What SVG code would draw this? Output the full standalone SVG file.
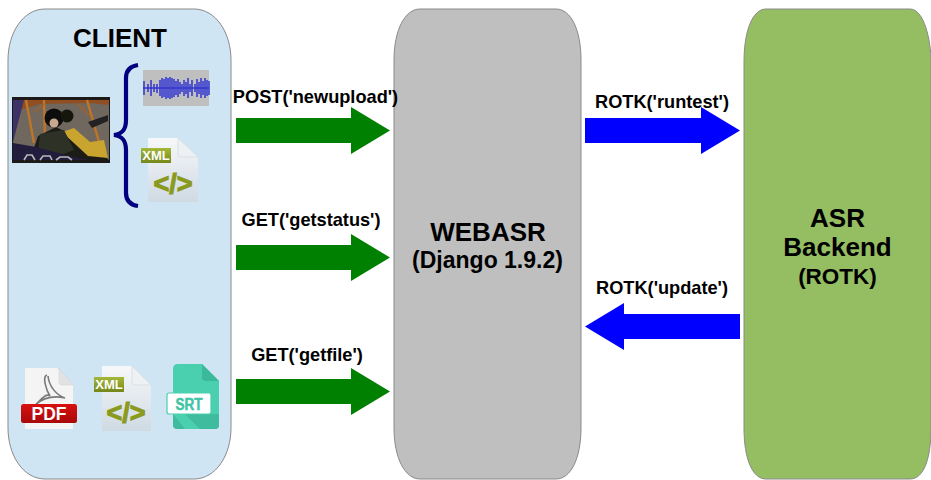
<svg xmlns="http://www.w3.org/2000/svg" width="931" height="480" viewBox="0 0 931 480">
<defs>
<style>
text{font-family:"Liberation Sans",Arial,sans-serif;font-weight:700;fill:#000;text-anchor:middle}
.box{stroke:#8a8a8a;stroke-width:1}
.lbl{font-size:18.2px}
.g{fill:#008000}.b{fill:#0000ff}
.page{fill:url(#pg)}
.fold{fill:#eef1f3;stroke:#cfd4d8;stroke-width:.6}
.xmlb{fill:url(#xb)}
.xmlt{font-size:13px;fill:#fff}
.code{font-size:27px;fill:#8a9a1e;stroke:#8a9a1e;stroke-width:1.1}
</style>
<linearGradient id="pg" x1="0" y1="0" x2="0" y2="1"><stop offset="0" stop-color="#f7f8f9"/><stop offset="1" stop-color="#cfdae3"/></linearGradient>
<linearGradient id="xb" x1="0" y1="0" x2="0" y2="1"><stop offset="0" stop-color="#a5b83a"/><stop offset="1" stop-color="#76871a"/></linearGradient>
<linearGradient id="pr" x1="0" y1="0" x2="0" y2="1"><stop offset="0" stop-color="#d81010"/><stop offset="1" stop-color="#a80808"/></linearGradient>
<filter id="soft" x="-5%" y="-5%" width="110%" height="110%"><feGaussianBlur stdDeviation="0.7"/></filter>
</defs>
<g id="client">
<path class="box" fill="#cfe5f4" d="M45 9H194C216 9 231 33 231 60V428C231 455 216 479 194 479H45C23 479 8 455 8 428V60C8 33 23 9 45 9Z"/>
<text x="120" y="47" font-size="26">CLIENT</text>
<g id="video">
<rect x="12" y="97" width="98" height="66" fill="#1c1a18"/>
<g filter="url(#soft)">
<rect x="13" y="100" width="96" height="60" fill="#6f675e"/>
<path d="M13 100H109V105L90 103 40 104 13 112Z" fill="#8f4f22"/>
<path d="M26 100L34 143M44 100L45 140M87 100L99 142" stroke="#c07428" stroke-width="2.4" fill="none"/>
<path d="M34 112L44 104M78 104L90 116" stroke="#a85f25" stroke-width="1.6" fill="none"/>
<path d="M13 100V142L24 100Z" fill="#3d3268"/>
<path d="M30 160L38 136 56 127 74 136 100 152 109 160Z" fill="#1d1e18"/>
<path d="M62 132L74 128 90 142 104 140 108 158 88 156Z" fill="#c9a42e"/>
<path d="M40 134L64 130 74 150 58 156 38 152Z" fill="#2f3226"/>
<circle cx="54" cy="118" r="9.500" fill="#0f0f0f"/><circle cx="54" cy="123" r="4.500" fill="#c9a88e"/>
<circle cx="67" cy="116" r="6.500" fill="#17130f"/>
<path d="M13 143L36 147 70 156 88 160H13Z" fill="#221e3c"/>
<path d="M24 160L27 155H32L35 160M40 160L43 156H50L52 160M56 160L60 157H68L72 160" stroke="#b8b8b8" stroke-width="1.6" fill="none"/>
<path d="M88 122L108 115 108 121 92 128Z" fill="#222"/>
</g>
</g>
<path id="brace" d="M138 65C131 66 126 70 126 78V120C126 130 122 134 114 135C122 136 126 140 126 150V193C126 201 131 205 138 206" fill="none" stroke="#000080" stroke-width="4.200"/>
<g id="wave">
<rect x="143" y="70" width="66" height="36" fill="#bfbfbf"/>
<path d="M143 88H209M144 81V95M148 84V92M151 80V96M154 84V92M157 84V93M160 80V96M162 78V98M164 79V97M166 77V99M168 78V98M170 77V99M172 78V98M174 79V97M176 81V95M178 79V97M180 82V94M182 84V92M184 80V96M186 82V94M188 78V98M190 84V92M192 80V96M195 84V92M197 79V97M199 82V94M201 78V98M203 81V95M205 78V98M207 80V96M209 81V95" stroke="#3236d0" stroke-width="1.500" fill="none"/>
</g>
<g id="xml1">
<path class="page" d="M148 138H178L198 157V202H148Z"/>
<path class="fold" d="M178 138L198 157H181Q178 157 178 154Z"/>
<rect class="xmlb" x="141" y="148" width="30" height="15"/>
<text class="xmlt" x="156" y="160">XML</text>
<text class="code" x="173" y="193">&lt;/&gt;</text>
</g>
<g id="pdf">
<path d="M25 368H57L73 385V429H25Z" fill="#f4f4f4"/>
<path d="M59 368L73 385H62Q59 385 59 382Z" fill="#e2e2e2" stroke="#d0d0d0" stroke-width=".5"/>
<path d="M47 375C42 376 46 390 50 396C46 392 38 403 35 405C43 398 52 395 65 398C56 395 49 386 48 376" fill="none" stroke="#7a7a7a" stroke-width="1.600"/>
<rect x="21" y="404" width="56" height="19" rx="2.500" fill="url(#pr)"/>
<text x="49" y="420" font-size="17.500" style="fill:#fff">PDF</text>
</g>
<g id="xml2">
<path class="page" d="M102 366H132L151 385V431H102Z"/>
<path class="fold" d="M132 366L151 385H135Q132 385 132 382Z"/>
<rect class="xmlb" x="94" y="377" width="30" height="15"/>
<text class="xmlt" x="109" y="389">XML</text>
<text class="code" x="126" y="422">&lt;/&gt;</text>
</g>
<g id="srt">
<path d="M178 364H202L219 381V425Q219 429 215 429H178Q173 429 173 425V369Q173 364 178 364Z" fill="#4acfaf"/>
<path d="M202 364L219 381H206Q202 381 202 377Z" fill="#3cb89b"/>
<path d="M173 414L185 429H178Q173 429 173 425ZM185 414H219V425Q219 429 215 429H200Z" fill="#3fbb9e"/>
<rect x="167" y="393" width="44" height="21" rx="2" fill="#fff" stroke="#4acfaf" stroke-width="1.200"/>
<text x="189" y="410" font-size="16" textLength="27" lengthAdjust="spacingAndGlyphs" style="fill:#3fc4a5;stroke:#3fc4a5;stroke-width:.5">SRT</text>
</g>
</g>
<g id="webasr">
<path class="box" fill="#bfbfbf" d="M420 9H556C571 9 581 30 581 60V428C581 458 571 479 556 479H420C405 479 394 458 394 428V60C394 30 405 9 420 9Z"/>
<text x="488" y="241" font-size="26">WEBASR</text>
<text x="487.500" y="268" font-size="23">(Django 1.9.2)</text>
</g>
<g id="asr">
<path class="box" fill="#95bd62" d="M766 9H910C924 9 931 40 931 62V428C931 458 924 479 910 479H766C752 479 744 458 744 428V62C744 32 752 9 766 9Z"/>
<text x="837.500" y="227" font-size="26">ASR</text>
<text x="837.500" y="256" font-size="26">Backend</text>
<text x="837.500" y="284" font-size="22.500">(ROTK)</text>
</g>
<g id="connectors">
<path class="g" d="M236 118H351V107L390 130.500 351 154V143H236Z"/>
<path class="g" d="M236 245H351V234L390 257.500 351 281V270H236Z"/>
<path class="g" d="M236 379H351V368L390 391.500 351 415V404H236Z"/>
<path class="b" d="M585 118H701V107L740 130.500 701 154V143H585Z"/>
<path class="b" d="M740 314H624V303L585 326.500 624 350V339H740Z"/>
<text class="lbl" x="315.500" y="103">POST('newupload')</text>
<text class="lbl" x="311" y="226">GET('getstatus')</text>
<text class="lbl" x="307" y="361">GET('getfile')</text>
<text class="lbl" x="662" y="108">ROTK('runtest')</text>
<text class="lbl" x="662" y="294">ROTK('update')</text>
</g>
</svg>
